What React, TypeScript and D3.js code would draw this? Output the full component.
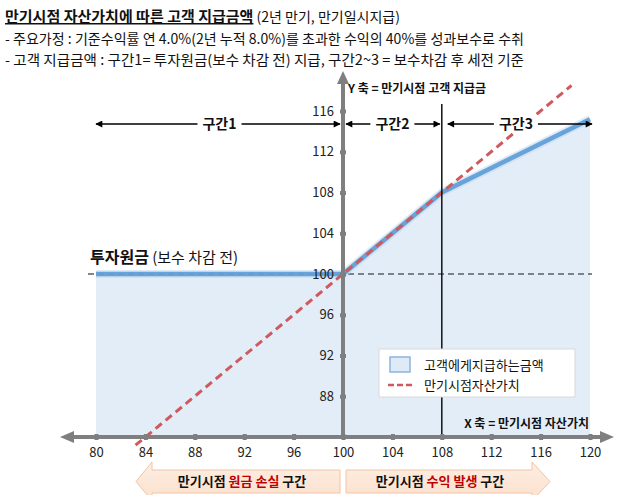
import React, { useRef, useEffect } from 'react';
import * as d3 from 'd3';

// payout curve (asset value at maturity -> amount paid to client)
const assetValues = [80, 100, 108, 120];
const payouts = [100, 100, 108, 115.2];
// asset value line (y = x)
const assetLineX = [83.2, 118.5];
const xTicks = [80, 84, 88, 92, 96, 100, 104, 108, 112, 116, 120];
const yTicks = [88, 92, 96, 100, 104, 108, 112, 116];
const sections = [
  { label: '구간1', from: 80, to: 100 },
  { label: '구간2', from: 100, to: 108 },
  { label: '구간3', from: 108, to: 120 },
];
const principal = 100;
const feeHurdle = 108;

const KR = '"Noto Sans CJK KR", "Noto Sans", sans-serif';

export default function App() {
  const svgRef = useRef<SVGSVGElement>(null);
  const width = 644;
  const height = 495;

  useEffect(() => {
    if (!svgRef.current) return;
    const svg = d3.select(svgRef.current);
    svg.selectAll('*').remove();

    const x = d3.scaleLinear().domain([80, 120]).range([96, 590]);
    const y = d3.scaleLinear().domain([84, 116]).range([437, 111]);
    const axisColor = '#7f7f7f';

    const defs = svg.append('defs');
    defs.append('marker')
      .attr('id', 'ah')
      .attr('viewBox', '0 0 10 10')
      .attr('refX', 9).attr('refY', 5)
      .attr('markerWidth', 9).attr('markerHeight', 7)
      .attr('markerUnits', 'userSpaceOnUse')
      .attr('orient', 'auto-start-reverse')
      .append('path').attr('d', 'M0,0L10,5L0,10z').attr('fill', '#000');
    const grad = defs.append('linearGradient').attr('id', 'peach').attr('x1', 0).attr('x2', 0).attr('y1', 0).attr('y2', 1);
    grad.append('stop').attr('offset', '0%').attr('stop-color', '#fdeee3');
    grad.append('stop').attr('offset', '100%').attr('stop-color', '#fbe0cd');

    // header
    const head = svg.append('g').attr('font-family', KR).attr('fill', '#111');
    const t1 = head.append('text').attr('x', 5).attr('y', 22)
      .attr('textLength', 395).attr('lengthAdjust', 'spacingAndGlyphs');
    t1.append('tspan').attr('font-size', 15).attr('font-weight', 700).attr('text-decoration', 'underline')
      .text('만기시점 자산가치에 따른 고객 지급금액');
    t1.append('tspan').attr('font-size', 14).text(' (2년 만기, 만기일시지급)');
    head.append('text').attr('x', 5).attr('y', 44).attr('font-size', 14)
      .attr('textLength', 519).attr('lengthAdjust', 'spacingAndGlyphs')
      .text('- 주요가정 : 기준수익률 연 4.0%(2년 누적 8.0%)를 초과한 수익의 40%를 성과보수로 수취');
    head.append('text').attr('x', 5).attr('y', 65).attr('font-size', 14)
      .attr('textLength', 519).attr('lengthAdjust', 'spacingAndGlyphs')
      .text('- 고객 지급금액 : 구간1= 투자원금(보수 차감 전) 지급, 구간2~3 = 보수차감 후 세전 기준');

    // payout area
    const pts = assetValues.map((v, i) => ({ v, p: payouts[i] }));
    svg.append('path')
      .datum(pts)
      .attr('fill', '#e3edf8')
      .attr('d', d3.area<{ v: number; p: number }>().x(d => x(d.v)).y0(y(84)).y1(d => y(d.p)));

    // principal reference line
    svg.append('line')
      .attr('x1', 88).attr('x2', 592)
      .attr('y1', y(principal)).attr('y2', y(principal))
      .attr('stroke', '#5a5f66').attr('stroke-width', 1.5).attr('stroke-dasharray', '6,4');

    // payout line (soft halo + core)
    const payLine = d3.line<{ v: number; p: number }>().x(d => x(d.v)).y(d => y(d.p));
    svg.append('path')
      .datum(pts)
      .attr('fill', 'none')
      .attr('stroke', '#bcd6ef')
      .attr('stroke-width', 8)
      .attr('stroke-opacity', 0.5)
      .attr('d', payLine);
    svg.append('path')
      .datum(pts)
      .attr('fill', 'none')
      .attr('stroke', '#5b9bd5')
      .attr('stroke-width', 4.5)
      .attr('stroke-opacity', 0.9)
      .attr('d', payLine);

    // asset value line y = x
    svg.append('path')
      .datum(assetLineX)
      .attr('fill', 'none')
      .attr('stroke', '#cf5a5e')
      .attr('stroke-width', 3)
      .attr('stroke-dasharray', '8,5')
      .attr('d', d3.line<number>().x(d => x(d)).y(d => y(d)));

    // 108 boundary
    svg.append('line')
      .attr('x1', x(feeHurdle)).attr('x2', x(feeHurdle))
      .attr('y1', 104).attr('y2', y(84))
      .attr('stroke', '#111').attr('stroke-width', 1.5);

    // x axis
    const xAxisG = svg.append('g').attr('transform', `translate(0,${y(84)})`);
    xAxisG.append('line').attr('x1', 70).attr('x2', 604).attr('stroke', axisColor).attr('stroke-width', 4);
    xAxisG.append('path').attr('d', 'M60,0L74,-6L74,6z').attr('fill', axisColor);
    xAxisG.append('path').attr('d', 'M614,0L600,-6L600,6z').attr('fill', axisColor);
    xAxisG.append('g')
      .call(d3.axisBottom(x).tickValues(xTicks).tickSizeOuter(0).tickSizeInner(3))
      .call(g => g.select('.domain').remove())
      .call(g => g.selectAll('.tick line').attr('y1', -3).attr('y2', 3).attr('stroke', axisColor).attr('stroke-width', 4))
      .call(g => g.selectAll('.tick text').attr('y', 11).attr('font-size', 13).attr('font-family', KR).attr('fill', '#222'));

    // y axis
    const yAxisG = svg.append('g').attr('transform', `translate(${x(100)},0)`);
    yAxisG.append('line').attr('y1', y(84)).attr('y2', 82).attr('stroke', axisColor).attr('stroke-width', 4);
    yAxisG.append('path').attr('d', 'M0,71L-6,84L6,84z').attr('fill', axisColor);
    yAxisG.append('g')
      .call(d3.axisLeft(y).tickValues(yTicks).tickSizeOuter(0).tickSizeInner(3))
      .call(g => g.select('.domain').remove())
      .call(g => g.selectAll('.tick line').attr('x1', -3).attr('x2', 3).attr('stroke', axisColor).attr('stroke-width', 4))
      .call(g => g.selectAll('.tick text').attr('x', -9).attr('font-size', 13).attr('font-family', KR).attr('fill', '#222'));

    // axis titles
    svg.append('text').attr('x', 348).attr('y', 93).attr('font-family', KR).attr('font-size', 12).attr('font-weight', 700)
      .attr('fill', '#111').text('Y 축 = 만기시점 고객 지급금');
    svg.append('text').attr('x', 589).attr('y', 428).attr('text-anchor', 'end').attr('font-family', KR).attr('font-size', 12)
      .attr('font-weight', 700).attr('fill', '#111').text('X 축 = 만기시점 자산가치');

    // section arrows
    const secY = 124;
    const pad: Record<string, [number, number]> = { '구간1': [0, -3], '구간2': [3, -2], '구간3': [6, 2] };
    sections.forEach(s => {
      const [p0, p1] = pad[s.label];
      const g = svg.append('g');
      g.append('line')
        .attr('x1', x(s.from) + p0).attr('x2', x(s.to) + p1)
        .attr('y1', secY).attr('y2', secY)
        .attr('stroke', '#000').attr('stroke-width', 1.6)
        .attr('marker-start', 'url(#ah)').attr('marker-end', 'url(#ah)');
      const cx = (x(s.from) + x(s.to)) / 2;
      g.append('rect').attr('x', cx - 22).attr('y', secY - 9).attr('width', 44).attr('height', 18).attr('fill', '#fff');
      g.append('text').attr('x', cx).attr('y', secY + 5).attr('text-anchor', 'middle')
        .attr('font-family', KR).attr('font-size', 14).attr('font-weight', 700).attr('fill', '#111').text(s.label);
    });

    // principal label
    const pl = svg.append('text').attr('x', 90).attr('y', 263).attr('font-family', KR).attr('fill', '#111');
    pl.append('tspan').attr('font-size', 16).attr('font-weight', 700).text('투자원금');
    pl.append('tspan').attr('font-size', 15).text(' (보수 차감 전)');

    // legend
    const lg = svg.append('g').attr('transform', 'translate(379,349)');
    lg.append('rect').attr('width', 196).attr('height', 48).attr('fill', '#fff').attr('stroke', '#d9d9d9').attr('stroke-width', 1);
    lg.append('rect').attr('x', 11).attr('y', 8).attr('width', 20).attr('height', 15).attr('fill', '#deebf7')
      .attr('stroke', '#8db4e2').attr('stroke-width', 1.5);
    lg.append('text').attr('x', 45).attr('y', 21).attr('font-family', KR).attr('font-size', 13).attr('fill', '#111').text('고객에게지급하는금액');
    lg.append('line').attr('x1', 9).attr('x2', 36).attr('y1', 36).attr('y2', 36)
      .attr('stroke', '#cf5a5e').attr('stroke-width', 2.5).attr('stroke-dasharray', '6,3');
    lg.append('text').attr('x', 45).attr('y', 41).attr('font-family', KR).attr('font-size', 13).attr('fill', '#111').text('만기시점자산가치');

    // bottom zone arrows
    const top = 470, bot = 493, headTop = 462, headBot = 501;
    svg.append('path')
      .attr('d', `M340,${top}L152,${top}L152,${headTop}L136,${(top + bot) / 2}L152,${headBot}L152,${bot}L340,${bot}z`)
      .attr('fill', 'url(#peach)').attr('stroke', '#f2c4a4').attr('stroke-width', 1);
    svg.append('path')
      .attr('d', `M346,${top}L532,${top}L532,${headTop}L550,${(top + bot) / 2}L532,${headBot}L532,${bot}L346,${bot}z`)
      .attr('fill', 'url(#peach)').attr('stroke', '#f2c4a4').attr('stroke-width', 1);
    const z1 = svg.append('text').attr('x', 242).attr('y', 486).attr('text-anchor', 'middle')
      .attr('font-family', KR).attr('font-size', 13).attr('font-weight', 700).attr('fill', '#111');
    z1.append('tspan').text('만기시점 ');
    z1.append('tspan').attr('fill', '#c00000').text('원금 손실');
    z1.append('tspan').text(' 구간');
    const z2 = svg.append('text').attr('x', 440).attr('y', 486).attr('text-anchor', 'middle')
      .attr('font-family', KR).attr('font-size', 13).attr('font-weight', 700).attr('fill', '#111');
    z2.append('tspan').text('만기시점 ');
    z2.append('tspan').attr('fill', '#c00000').text('수익 발생');
    z2.append('tspan').text(' 구간');
  }, []);

  return (
    <svg
      ref={svgRef}
      width={width}
      height={height}
      style={{ position: 'absolute', left: 0, top: 0, background: '#fff' }}
    />
  );
}
